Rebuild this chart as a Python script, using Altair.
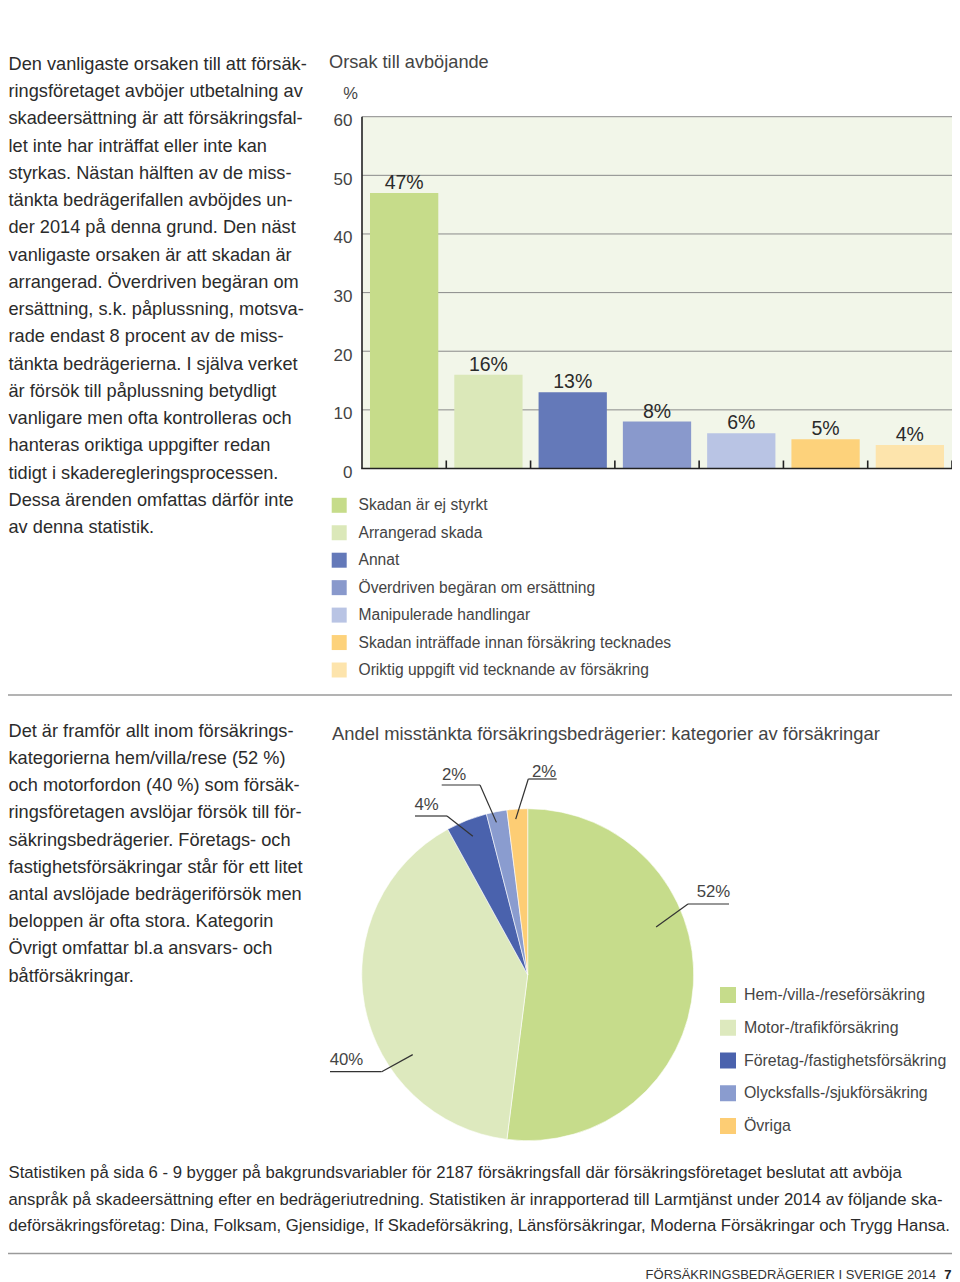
import altair as alt
import pandas as pd
import math

# ---------------- data ----------------
reasons = [
    "Skadan är ej styrkt",
    "Arrangerad skada",
    "Annat",
    "Överdriven begäran om ersättning",
    "Manipulerade handlingar",
    "Skadan inträffade innan försäkring tecknades",
    "Oriktig uppgift vid tecknande av försäkring",
]
reason_pct = [47, 16, 13, 8, 6, 5, 4]
reason_colors = ["#c6dc8a", "#dbe8b9", "#6479b9", "#8999cc", "#b9c4e4", "#fdd27b", "#fde4ac"]
y_ticks = [0, 10, 20, 30, 40, 50, 60]

ins_categories = [
    "Hem-/villa-/reseförsäkring",
    "Motor-/trafikförsäkring",
    "Företag-/fastighetsförsäkring",
    "Olycksfalls-/sjukförsäkring",
    "Övriga",
]
ins_pct = [52, 40, 4, 2, 2]
ins_colors = ["#c6dc8b", "#dde9be", "#4a62ad", "#8a9ccf", "#fdcd74"]

para_top = [
    "Den vanligaste orsaken till att försäk-",
    "ringsföretaget avböjer utbetalning av",
    "skadeersättning är att försäkringsfal-",
    "let inte har inträffat eller inte kan",
    "styrkas. Nästan hälften av de miss-",
    "tänkta bedrägerifallen avböjdes un-",
    "der 2014 på denna grund. Den näst",
    "vanligaste orsaken är att skadan är",
    "arrangerad. Överdriven begäran om",
    "ersättning, s.k. påplussning, motsva-",
    "rade endast 8 procent av de miss-",
    "tänkta bedrägerierna. I själva verket",
    "är försök till påplussning betydligt",
    "vanligare men ofta kontrolleras och",
    "hanteras oriktiga uppgifter redan",
    "tidigt i skaderegleringsprocessen.",
    "Dessa ärenden omfattas därför inte",
    "av denna statistik.",
]
para_bottom = [
    "Det är framför allt inom försäkrings-",
    "kategorierna hem/villa/rese (52 %)",
    "och motorfordon (40 %) som försäk-",
    "ringsföretagen avslöjar försök till för-",
    "säkringsbedrägerier. Företags- och",
    "fastighetsförsäkringar står för ett litet",
    "antal avslöjade bedrägeriförsök men",
    "beloppen är ofta stora. Kategorin",
    "Övrigt omfattar bl.a ansvars- och",
    "båtförsäkringar.",
]
footer_lines = [
    "Statistiken på sida 6 - 9 bygger på bakgrundsvariabler för 2187 försäkringsfall där försäkringsföretaget beslutat att avböja",
    "anspråk på skadeersättning efter en bedrägeriutredning. Statistiken är inrapporterad till Larmtjänst under 2014 av följande ska-",
    "deförsäkringsföretag: Dina, Folksam, Gjensidige, If Skadeförsäkring, Länsförsäkringar, Moderna Försäkringar och Trygg Hansa.",
]
bar_title = "Orsak till avböjande"
bar_unit = "%"
pie_title = "Andel misstänkta försäkringsbedrägerier: kategorier av försäkringar"
page_footer = "FÖRSÄKRINGSBEDRÄGERIER I SVERIGE 2014"
page_number = "7"

# ---------------- layout (page pixel coordinates) ----------------
M = 8
W, H = 944, 1274


def X(px):
    return px - M


def Y(py):
    return py - M


FONT = "Liberation Sans, Arial, sans-serif"
TEXT = "#2b2b2b"
GREY = "#444444"

layers = []
one = pd.DataFrame({"a": [0]})


def paragraph(lines, x, y_first, spacing, size, color=TEXT):
    # vega places the first line at y; the following lines go down by lineHeight
    return alt.Chart(pd.DataFrame({"t": ["\n".join(lines)]})).mark_text(
        align="left", baseline="middle", lineBreak="\n", lineHeight=spacing,
        font=FONT, fontSize=size, color=color,
    ).encode(x=alt.value(X(x)), y=alt.value(Y(y_first)), text="t:N")


def label(text, x, y, size, color=TEXT, align="left", weight="normal"):
    return alt.Chart(pd.DataFrame({"t": [text]})).mark_text(
        align=align, baseline="middle", font=FONT, fontSize=size, color=color, fontWeight=weight,
    ).encode(x=alt.value(X(x)), y=alt.value(Y(y)), text="t:N")


def hline(y, x0, x1, color="#9a9a9a", width=1.5):
    return alt.Chart(one).mark_rule(color=color, strokeWidth=width).encode(
        x=alt.value(X(x0)), x2=alt.value(X(x1)), y=alt.value(Y(y))
    )


# ---------------- texts ----------------
TX = 8.5
layers.append(paragraph(para_top, TX, 65, 27.24, 18.2))
layers.append(paragraph(para_bottom, TX, 731.7, 27.22, 18.2))
layers.append(paragraph(footer_lines, TX, 1173, 26.6, 16.7))
layers.append(hline(695, 8, 960))
layers.append(hline(1253.5, 8, 960))
layers.append(label(page_footer, 936, 1275, 13.0, color="#333333", align="right"))
layers.append(label(page_number, 951.5, 1275, 13, color="#222222", align="right", weight="bold"))

# ---------------- bar chart ----------------
PX0, PX1 = 362, 952
PY0, PY60 = 468.5, 116.7
xb = alt.Scale(domain=reasons, range=[X(PX0), X(PX1)], paddingInner=0.19, paddingOuter=0.095)
yb = alt.Scale(domain=[0, 60], range=[Y(PY0), Y(PY60)], nice=False, zero=False)
bar_color = alt.Scale(domain=reasons, range=reason_colors)

bars_df = pd.DataFrame({"r": reasons, "v": reason_pct, "lab": [f"{v}%" for v in reason_pct], "z": 0})
ticks_df = pd.DataFrame({"v": y_ticks})
frame_df = pd.DataFrame({"lo": [0], "hi": [60]})

layers.append(label(bar_title, 329, 62.7, 18.2, color=GREY))
layers.append(label(bar_unit, 350.6, 93.5, 16.5, color=GREY, align="center"))

layers.append(
    alt.Chart(frame_df).mark_rect(color="#f2f6e9").encode(
        x=alt.value(X(PX0)), x2=alt.value(X(PX1)),
        y=alt.Y("lo:Q", scale=yb, axis=None), y2="hi:Q",
    )
)
layers.append(
    alt.Chart(ticks_df[ticks_df.v > 0]).mark_rule(color="#8a8a8a", strokeWidth=1).encode(
        y=alt.Y("v:Q", scale=yb, axis=None), x=alt.value(X(PX0)), x2=alt.value(X(PX1)),
    )
)
layers.append(
    alt.Chart(bars_df).mark_bar(stroke=None).encode(
        x=alt.X("r:N", scale=xb, sort=reasons, axis=None),
        y=alt.Y("v:Q", scale=yb, axis=None, stack=None),
        color=alt.Color("r:N", scale=bar_color, legend=None),
    )
)
layers.append(
    alt.Chart(bars_df).mark_text(baseline="alphabetic", dy=-4, font=FONT, fontSize=19.5, color=TEXT).encode(
        x=alt.X("r:N", scale=xb, sort=reasons, axis=None, bandPosition=0.5),
        y=alt.Y("v:Q", scale=yb, axis=None),
        text="lab:N",
    )
)
# axis lines
layers.append(
    alt.Chart(frame_df).mark_rule(color="#222222", strokeWidth=1.6).encode(
        x=alt.value(X(PX0)), y=alt.Y("lo:Q", scale=yb, axis=None), y2="hi:Q",
    )
)
layers.append(
    alt.Chart(frame_df).mark_rule(color="#222222", strokeWidth=1.6).encode(
        y=alt.Y("lo:Q", scale=yb, axis=None), x=alt.value(X(PX0) - 0.8), x2=alt.value(X(PX1)),
    )
)
# category tick marks (pointing up, at band boundaries)
step = (PX1 - PX0) / len(reasons)
layers.append(
    alt.Chart(bars_df).mark_rule(color="#222222", strokeWidth=1.6, xOffset=step * 0.19 / 2, y2Offset=-8).encode(
        x=alt.X("r:N", scale=xb, sort=reasons, axis=None, bandPosition=1),
        y=alt.Y("z:Q", scale=yb, axis=None), y2="z:Q",
    )
)
# y tick labels
layers.append(
    alt.Chart(ticks_df).mark_text(align="right", baseline="middle", dy=4.5, font=FONT, fontSize=17, color=GREY).encode(
        x=alt.value(X(352.5)), y=alt.Y("v:Q", scale=yb, axis=None), text="v:Q",
    )
)
# legend
leg_y = alt.Scale(type="point", domain=reasons, range=[Y(505.3), Y(670)], padding=0)
layers.append(
    alt.Chart(bars_df).mark_square(size=15 * 15, opacity=1, strokeWidth=0).encode(
        x=alt.value(X(339.2)), y=alt.Y("r:N", scale=leg_y, sort=reasons, axis=None),
        color=alt.Color("r:N", scale=bar_color, legend=None),
    )
)
layers.append(
    alt.Chart(bars_df).mark_text(align="left", baseline="middle", font=FONT, fontSize=15.6, color=GREY).encode(
        x=alt.value(X(358.5)), y=alt.Y("r:N", scale=leg_y, sort=reasons, axis=None), text="r:N",
    )
)

# ---------------- pie chart ----------------
CX, CY, R = 527.7, 974.7, 166
pie_df = pd.DataFrame({"c": ins_categories, "v": ins_pct, "o": list(range(len(ins_pct)))})
pie_color = alt.Scale(domain=ins_categories, range=ins_colors)

layers.append(label(pie_title, 332, 734, 18.4, color=GREY))
layers.append(
    alt.Chart(pie_df).mark_arc(radius=R, stroke="white", strokeWidth=0.6).encode(
        theta=alt.Theta("v:Q", stack=True),
        color=alt.Color("c:N", scale=pie_color, legend=None),
        order=alt.Order("o:Q"),
        x=alt.value(X(CX)), y=alt.value(Y(CY)),
    )
)

# leader lines: (angle shift from slice middle, inner radius, text x, text y, underline x0, x1, y, elbow side)
leader_layout = [
    (-24, 137, 713.5, 892, 688, 729, 904, "left"),
    (-24, 140, 346.5, 1060, 330, 381.7, 1071.7, "right"),
    (0, 149, 426.5, 805, 415, 447, 816, "right"),
    (-0.8, 155.5, 454, 775, 441.7, 480, 785, "right"),
    (-0.8, 156, 544, 771.7, 528.3, 556.7, 779, "left"),
]
total = sum(ins_pct)
cum = 0
segs = []
texts = []
for v, lay in zip(ins_pct, leader_layout):
    mid = (cum + v / 2) / total * 360
    cum += v
    shift, rin, tx, ty, u0, u1, uy, side = lay
    a = math.radians(mid + shift)
    ix = CX + rin * math.sin(a)
    iy = CY - rin * math.cos(a)
    ex = u0 if side == "left" else u1
    segs.append({"x": X(u0), "y": Y(uy), "x2": X(u1), "y2": Y(uy)})
    segs.append({"x": X(ex), "y": Y(uy), "x2": X(ix), "y2": Y(iy)})
    texts.append({"t": f"{v}%", "x": X(tx), "y": Y(ty)})

layers.append(
    alt.Chart(pd.DataFrame(segs)).mark_rule(color="#333333", strokeWidth=1.2).encode(
        x=alt.X("x:Q", scale=None, axis=None), y=alt.Y("y:Q", scale=None, axis=None),
        x2="x2:Q", y2="y2:Q",
    )
)
layers.append(
    alt.Chart(pd.DataFrame(texts)).mark_text(align="center", baseline="middle", font=FONT, fontSize=16.8, color=GREY).encode(
        x=alt.X("x:Q", scale=None, axis=None), y=alt.Y("y:Q", scale=None, axis=None), text="t:N",
    )
)

pleg_y = alt.Scale(type="point", domain=ins_categories, range=[Y(995), Y(1126)], padding=0)
layers.append(
    alt.Chart(pie_df).mark_square(size=16 * 16, opacity=1, strokeWidth=0).encode(
        x=alt.value(X(728)), y=alt.Y("c:N", scale=pleg_y, sort=ins_categories, axis=None),
        color=alt.Color("c:N", scale=pie_color, legend=None),
    )
)
layers.append(
    alt.Chart(pie_df).mark_text(align="left", baseline="middle", font=FONT, fontSize=15.9, color=GREY).encode(
        x=alt.value(X(744)), y=alt.Y("c:N", scale=pleg_y, sort=ins_categories, axis=None), text="c:N",
    )
)

chart = (
    alt.layer(*layers)
    .resolve_scale(x="independent", y="independent", color="independent", theta="independent")
    .properties(width=W, height=H, autosize=alt.AutoSizeParams(type="none"), padding=0, background="white")
    .configure_view(stroke=None)
)

chart.save("out.html", embed_options={"renderer": "svg", "actions": False})
